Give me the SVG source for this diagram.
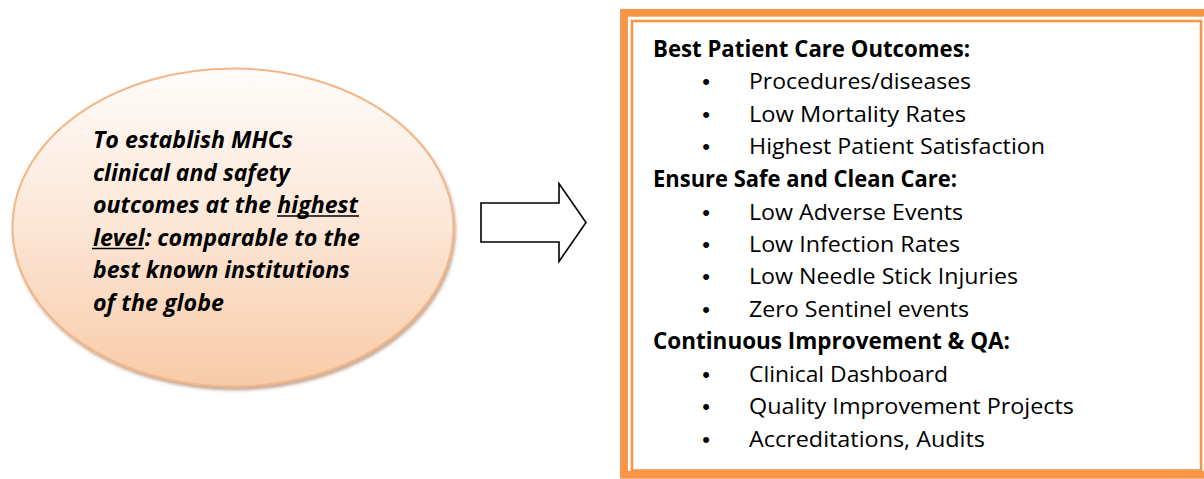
<svg xmlns="http://www.w3.org/2000/svg" width="1204" height="479" viewBox="0 0 1204 479">
  <defs>
    <linearGradient id="peach" x1="0" y1="0" x2="0" y2="1">
      <stop offset="0" stop-color="#fffcfa"/>
      <stop offset="0.5" stop-color="#fce6d6"/>
      <stop offset="1" stop-color="#f8cba8"/>
    </linearGradient>
    <filter id="shade" x="-10%" y="-10%" width="120%" height="125%">
      <feDropShadow dx="1.5" dy="3" stdDeviation="1.6" flood-color="#9a6a48" flood-opacity="0.55"/>
    </filter>
  </defs>
  <style>
    .goal { font-family: "Open Sans", "Liberation Sans", sans-serif; font-size: 24px; font-weight: bold; font-style: italic; fill: #000; }
    .head { font-family: "Open Sans", "Liberation Sans", sans-serif; font-size: 22.5px; font-weight: bold; fill: #000; }
    .item { font-family: "Open Sans", "Liberation Sans", sans-serif; font-size: 22.5px; fill: #000; }
    .dot { font-family: "Liberation Sans", sans-serif; font-size: 22px; fill: #000; text-anchor: middle; }
  </style>
  <rect width="1204" height="479" fill="#ffffff"/>

  <!-- goal ellipse -->
  <g id="goal">
    <ellipse cx="233" cy="227.5" rx="220.5" ry="159" fill="url(#peach)" stroke="#f3b689" stroke-width="2" filter="url(#shade)"/>
    <text class="goal" x="93" y="148" textLength="200" lengthAdjust="spacingAndGlyphs">To establish MHCs</text>
    <text class="goal" x="93" y="180.5" textLength="197" lengthAdjust="spacingAndGlyphs">clinical and safety</text>
    <text class="goal" x="93" y="213" textLength="265" lengthAdjust="spacingAndGlyphs">outcomes at the highest</text>
    <text class="goal" x="93" y="245.5" textLength="267" lengthAdjust="spacingAndGlyphs">level: comparable to the</text>
    <text class="goal" x="93" y="278" textLength="257" lengthAdjust="spacingAndGlyphs">best known institutions</text>
    <text class="goal" x="93" y="310.5" textLength="131" lengthAdjust="spacingAndGlyphs">of the globe</text>
    <line x1="277" y1="216" x2="359" y2="216" stroke="#000" stroke-width="1.6"/>
    <line x1="92" y1="248.5" x2="144" y2="248.5" stroke="#000" stroke-width="1.6"/>
  </g>

  <!-- connector -->
  <g id="connectors">
    <polygon points="481,203 559,203 559,183.5 586,222.5 559,261.5 559,242 481,242" fill="#ffffff" stroke="#000" stroke-width="1.6" stroke-linejoin="miter"/>
  </g>

  <!-- outcomes box -->
  <g id="outcomes">
    <rect x="624" y="12.8" width="586" height="462" fill="#ffffff" stroke="#f79646" stroke-width="7.8"/>
    <rect x="632" y="21" width="569" height="449.5" fill="none" stroke="#f79646" stroke-width="2.6"/>

    <text class="head" x="653" y="56.5" textLength="317" lengthAdjust="spacingAndGlyphs">Best Patient Care Outcomes:</text>
    <text class="dot" x="706" y="89">•</text>
    <text class="item" x="749" y="89" textLength="222" lengthAdjust="spacingAndGlyphs">Procedures/diseases</text>
    <text class="dot" x="706" y="121.5">•</text>
    <text class="item" x="749" y="121.5" textLength="217" lengthAdjust="spacingAndGlyphs">Low Mortality Rates</text>
    <text class="dot" x="706" y="154">•</text>
    <text class="item" x="749" y="154" textLength="296" lengthAdjust="spacingAndGlyphs">Highest Patient Satisfaction</text>

    <text class="head" x="653" y="187" textLength="304" lengthAdjust="spacingAndGlyphs">Ensure Safe and Clean Care:</text>
    <text class="dot" x="706" y="219.5">•</text>
    <text class="item" x="749" y="219.5" textLength="214" lengthAdjust="spacingAndGlyphs">Low Adverse Events</text>
    <text class="dot" x="706" y="252">•</text>
    <text class="item" x="749" y="252" textLength="211" lengthAdjust="spacingAndGlyphs">Low Infection Rates</text>
    <text class="dot" x="706" y="284">•</text>
    <text class="item" x="749" y="284" textLength="269" lengthAdjust="spacingAndGlyphs">Low Needle Stick Injuries</text>
    <text class="dot" x="706" y="316.5">•</text>
    <text class="item" x="749" y="316.5" textLength="220" lengthAdjust="spacingAndGlyphs">Zero Sentinel events</text>

    <text class="head" x="653" y="349" textLength="357" lengthAdjust="spacingAndGlyphs">Continuous Improvement &amp; QA:</text>
    <text class="dot" x="706" y="381.5">•</text>
    <text class="item" x="749" y="381.5" textLength="199" lengthAdjust="spacingAndGlyphs">Clinical Dashboard</text>
    <text class="dot" x="706" y="414">•</text>
    <text class="item" x="749" y="414" textLength="325" lengthAdjust="spacingAndGlyphs">Quality Improvement Projects</text>
    <text class="dot" x="706" y="446.5">•</text>
    <text class="item" x="749" y="446.5" textLength="236" lengthAdjust="spacingAndGlyphs">Accreditations, Audits</text>
  </g>
</svg>
